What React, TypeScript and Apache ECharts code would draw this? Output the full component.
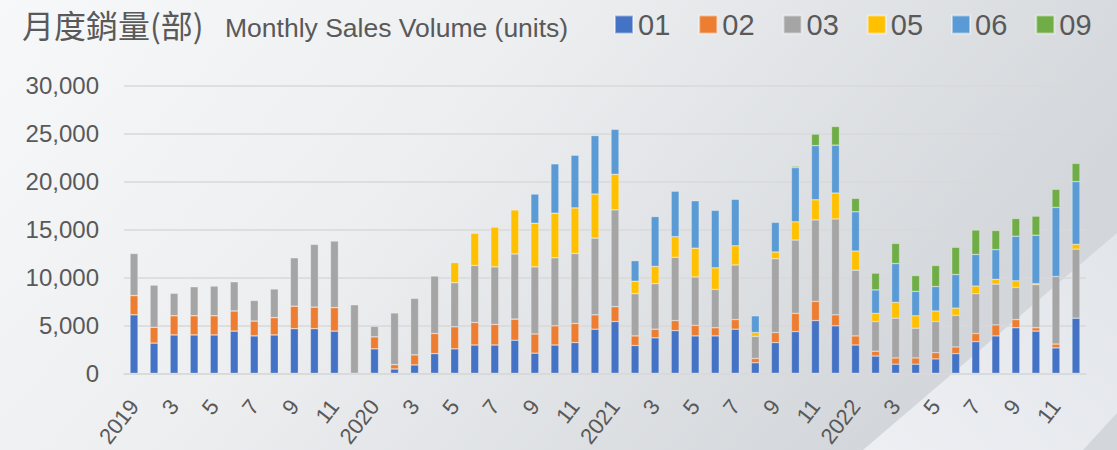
import React, { useEffect, useRef } from "react";
import * as echarts from "echarts";

const monthLabels = [
  "2019", "2", "3", "4", "5", "6", "7", "8", "9", "10", "11", "12",
  "2020", "2", "3", "4", "5", "6", "7", "8", "9", "10", "11", "12",
  "2021", "2", "3", "4", "5", "6", "7", "8", "9", "10", "11", "12",
  "2022", "2", "3", "4", "5", "6", "7", "8", "9", "10", "11", "12",
];

const seriesNames = ["01", "02", "03", "05", "06", "09"];

const s01 = [
  6100, 3150, 4000, 4000, 4000, 4400, 3900, 4000, 4650, 4650, 4400, 0,
  2550, 450, 870, 2050, 2550, 2950, 2950, 3450, 2100, 2950, 3200, 4600,
  5400, 2900, 3700, 4450, 3900, 3900, 4600, 1100, 3200, 4350, 5500, 4950,
  2950, 1800, 950, 950, 1500, 2050, 3300, 3900, 4750, 4400, 2650, 5750,
];
const s02 = [
  2000, 1650, 2000, 2000, 2000, 2100, 1550, 1800, 2350, 2250, 2450, 0,
  1250, 450, 1050, 2100, 2300, 2350, 2150, 2200, 2000, 2000, 2000, 1500,
  1550, 1000, 900, 1050, 1100, 850, 1000, 450, 1050, 1900, 2000, 1150,
  950, 500, 650, 650, 650, 700, 850, 1150, 850, 350, 400, 0,
];
const s03 = [
  4400, 4400, 2350, 3030, 3100, 3050, 2150, 3000, 5050, 6550, 6950, 7150,
  1100, 5400, 5900, 6000, 4600, 5950, 6000, 6800, 7000, 7100, 7300, 8000,
  10100, 4400, 4750, 6600, 5050, 4000, 5700, 2300, 7700, 7650, 8500, 10000,
  6850, 3100, 4150, 3100, 3250, 3300, 4150, 4250, 3350, 4500, 7050, 7200,
];
const s05 = [
  0, 0, 0, 0, 0, 0, 0, 0, 0, 0, 0, 0,
  0, 0, 0, 0, 2100, 3350, 4150, 4600, 4550, 4650, 4750, 4600,
  3700, 1300, 1800, 2150, 3000, 2250, 2000, 400, 700, 1900, 2100, 2700,
  2000, 850, 1650, 1300, 1100, 750, 800, 500, 700, 100, 0, 500,
];
const s06 = [
  0, 0, 0, 0, 0, 0, 0, 0, 0, 0, 0, 0,
  0, 0, 0, 0, 0, 0, 0, 0, 3050, 5150, 5500, 6100,
  4700, 2150, 5200, 4750, 4950, 6000, 4850, 1750, 3100, 5650, 5650, 5000,
  4100, 2450, 4050, 2550, 2550, 3500, 3300, 3100, 4650, 5050, 7200, 6550,
];
const s09 = [
  0, 0, 0, 0, 0, 0, 0, 0, 0, 0, 0, 0,
  0, 0, 0, 0, 0, 0, 0, 0, 0, 0, 0, 0,
  0, 0, 0, 0, 0, 0, 0, 0, 0, 150, 1200, 1950,
  1400, 1750, 2100, 1650, 2200, 2850, 2550, 2000, 1850, 2000, 1900, 1900,
];

const seriesColors = ["#4472C4", "#ED7D31", "#A5A5A5", "#FFC000", "#5B9BD5", "#70AD47"];
const seriesData = [s01, s02, s03, s05, s06, s09];

const textColor = "#595959";
const latin = '"Liberation Sans", Arial, sans-serif';

export default function App() {
  const ref = useRef<HTMLDivElement>(null);
  useEffect(() => {
    if (!ref.current) return;
    const chart = echarts.init(ref.current, undefined, { renderer: "svg" });
    chart.setOption({
      animation: false,
      backgroundColor: {
        type: "linear",
        x: 0, y: 0, x2: 1, y2: 0.35,
        colorStops: [
          { offset: 0, color: "#f7f8f9" },
          { offset: 0.45, color: "#eceef0" },
          { offset: 1, color: "#d3d6da" },
        ],
      },
      graphic: [
        {
          type: "polygon",
          z: -1,
          silent: true,
          shape: { points: [[863, 450], [1117, 233], [1117, 413], [1083, 450]] },
          style: {
            fill: {
              type: "linear", x: 0, y: 1, x2: 1, y2: 0,
              colorStops: [
                { offset: 0, color: "#edeff3" },
                { offset: 1, color: "#e2e5e9" },
              ],
            },
          },
        },
        {
          type: "text",
          left: 22,
          top: 8,
          style: {
            text: "月度銷量(部)",
            font: '32px "Noto Sans CJK TC"',
            fill: textColor,
          },
        },
        {
          type: "text",
          left: 225,
          top: 14,
          style: {
            text: "Monthly Sales Volume (units)",
            font: '26.5px ' + latin,
            fill: textColor,
          },
        },
      ],
      legend: {
        data: seriesNames,
        left: 614,
        top: 10,
        padding: 0,
        icon: "rect",
        itemWidth: 18,
        itemHeight: 18,
        itemGap: 28,
        textStyle: {
          fontSize: 29,
          color: textColor,
          fontFamily: latin,
        },
      },
      grid: { left: 124, right: 31, top: 85.7, bottom: 76.7 },
      xAxis: {
        type: "category",
        data: monthLabels,
        axisLine: { lineStyle: { color: "#d9d9d9", width: 1.5 } },
        axisTick: { show: false },
        axisLabel: {
          interval: 1,
          rotate: 52,
          margin: 29,
          verticalAlign: "middle",
          fontSize: 22,
          color: textColor,
          fontFamily: latin,
        },
      },
      yAxis: {
        type: "value",
        min: 0,
        max: 30000,
        interval: 5000,
        axisLine: { show: false },
        axisTick: { show: false },
        splitLine: { lineStyle: { color: "#d9d9d9", width: 1.5 } },
        axisLabel: {
          margin: 25,
          fontSize: 24,
          color: textColor,
          fontFamily: latin,
          formatter: (v: number) => v.toLocaleString("en-US"),
        },
      },
      series: seriesNames.map((name, i) => ({
        name,
        type: "bar",
        stack: "total",
        barWidth: 8,
        itemStyle: {
          color: seriesColors[i],
          borderColor: "rgba(255,255,255,0.45)",
          borderWidth: 0.6,
        },
        data: seriesData[i].map((v) => (v === 0 ? null : v)),
      })),
    });
    return () => chart.dispose();
  }, []);
  return (
    <div
      ref={ref}
      style={{ position: "fixed", left: 0, top: 0, width: 1117, height: 450 }}
    />
  );
}
